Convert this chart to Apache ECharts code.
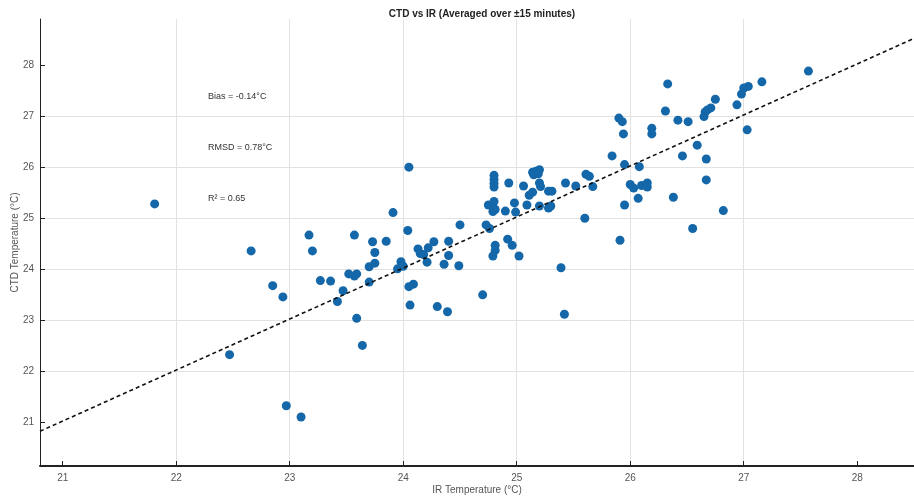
<!DOCTYPE html>
<html>
<head>
<meta charset="utf-8">
<script src="https://cdn.jsdelivr.net/npm/echarts@6/dist/echarts.min.js"></script>
<style>
  html, body { margin: 0; padding: 0; background: #fff; }
  #chart { width: 914px; height: 500px; }
</style>
</head>
<body>
<div id="chart"></div>
<script>
// IR temperature (x) vs CTD temperature (y)
const irTemp = [
  21.81, 22.66, 22.47, 22.97, 23.10, 22.85, 22.94, 23.17, 23.20, 23.27,
  23.36, 23.47, 23.42, 23.52, 23.57, 23.59, 23.57, 23.59, 23.64, 23.70,
  23.75, 23.70, 23.73, 23.75, 23.85, 23.91, 23.98, 23.95, 24.00, 24.04,
  24.05, 24.09, 24.06, 24.13, 24.15, 24.18, 24.21, 24.22, 24.27, 24.40,
  24.40, 24.36, 24.49, 24.30, 24.39, 24.50, 24.70, 24.73, 24.76, 24.05,
  24.80, 24.80, 24.80, 24.80, 24.75, 24.80, 24.79, 24.79, 24.81, 24.81,
  24.81, 24.79, 24.92, 24.96, 25.02, 24.90, 24.99, 24.98, 25.09, 25.20,
  25.28, 25.30, 24.93, 25.06, 25.14, 25.17, 25.20, 25.15, 25.19, 25.14,
  25.11, 25.20, 25.21, 25.28, 25.31, 25.43, 25.52, 25.61, 25.64, 25.67,
  25.60, 25.39, 25.42, 27.57, 27.16, 27.04, 27.00, 26.98, 26.94, 27.03,
  26.33, 26.75, 26.71, 26.68, 26.66, 26.65, 26.31, 26.42, 26.51, 25.90,
  25.93, 25.94, 26.19, 26.19, 25.84, 26.46, 26.59, 26.67, 25.95, 26.08,
  26.00, 26.03, 26.10, 26.15, 26.15, 25.95, 26.07, 26.38, 26.67, 26.82,
  26.55, 25.91
];
const ctdTemp = [
  25.28, 24.36, 22.33, 21.33, 21.11, 23.68, 23.46, 24.67, 24.36, 23.78,
  23.77, 23.58, 23.37, 23.91, 23.87, 23.91, 24.67, 23.04, 22.51, 24.05,
  24.12, 23.75, 24.54, 24.33, 24.55, 25.11, 24.15, 24.01, 24.06, 24.76,
  23.66, 23.71, 23.30, 24.40, 24.31, 24.29, 24.14, 24.42, 24.54, 24.55,
  24.27, 24.10, 24.07, 23.27, 23.17, 24.87, 23.50, 24.87, 24.80, 26.00,
  25.84, 25.76, 25.68, 25.61, 25.26, 25.33, 25.23, 25.13, 25.17, 24.47,
  24.37, 24.26, 24.59, 24.47, 24.26, 25.14, 25.12, 25.30, 25.26, 25.24,
  25.20, 25.24, 25.69, 25.63, 25.90, 25.92, 25.95, 25.85, 25.87, 25.51,
  25.45, 25.69, 25.62, 25.53, 25.53, 25.69, 25.63, 25.86, 25.82, 25.62,
  25.00, 24.03, 23.12, 27.88, 27.67, 27.58, 27.55, 27.43, 27.22, 26.73,
  27.63, 27.33, 27.16, 27.12, 27.08, 26.99, 27.10, 26.92, 26.89, 26.96,
  26.89, 26.65, 26.76, 26.65, 26.22, 26.22, 26.43, 26.16, 26.05, 26.01,
  25.66, 25.59, 25.64, 25.69, 25.61, 25.26, 25.39, 25.41, 25.75, 25.15,
  24.80, 24.57
];

// dashed fit line end points
const fitX = [20.8, 28.5];
const fitY = [20.83, 28.52];

const xTicks = [21, 22, 23, 24, 25, 26, 27, 28];
const yTicks = [21, 22, 23, 24, 25, 26, 27, 28];

const statsText = ['Bias = -0.14°C', 'RMSD = 0.78°C', 'R\u00B2 = 0.65'];

const font = 'Liberation Sans, Arial, sans-serif';

const chart = echarts.init(document.getElementById('chart'));

chart.setOption({
  animation: false,
  title: {
    text: 'CTD vs IR (Averaged over ±15 minutes)',
    left: 477,
    textAlign: 'center',
    top: 4,
    textStyle: { fontFamily: font, fontSize: 10, fontWeight: 'bold', color: '#222' }
  },
  grid: { left: 40, right: 0, top: 19, bottom: 34, containLabel: false, outerBoundsMode: 'none' },
  xAxis: {
    type: 'value',
    min: 20.8,
    max: 28.5,
    splitNumber: 8,
    name: 'IR Temperature (°C)',
    nameLocation: 'middle',
    nameGap: 19,
    nameMoveOverlap: false,
    nameTextStyle: { fontFamily: font, fontSize: 10, color: '#555' },
    axisLine: { onZero: false, lineStyle: { color: '#222', width: 2 } },
    axisTick: { inside: true, length: 5, lineStyle: { color: '#222' }, customValues: xTicks },
    axisLabel: { customValues: xTicks, fontFamily: font, fontSize: 10, color: '#555', margin: 7 },
    splitLine: { show: true, showMinLine: false, showMaxLine: false, lineStyle: { color: '#e2e2e2', width: 1 } }
  },
  yAxis: {
    type: 'value',
    min: 20.15,
    max: 28.9,
    splitNumber: 8,
    name: 'CTD Temperature (°C)',
    nameLocation: 'middle',
    nameGap: 20,
    nameMoveOverlap: false,
    nameTextStyle: { fontFamily: font, fontSize: 10, color: '#555' },
    axisLine: { show: true, onZero: false, lineStyle: { color: '#222', width: 1 } },
    axisTick: { show: true, inside: true, length: 5, lineStyle: { color: '#222' }, customValues: yTicks },
    axisLabel: { customValues: yTicks, fontFamily: font, fontSize: 10, color: '#555', margin: 6 },
    splitLine: { show: true, showMinLine: false, showMaxLine: false, lineStyle: { color: '#e2e2e2', width: 1 } }
  },
  graphic: statsText.map((t, i) => ({
    type: 'text',
    left: 208,
    top: 92 + i * 51,
    style: { text: t, fontFamily: font, fontSize: 9, fill: '#333' }
  })),
  series: [
    {
      type: 'scatter',
      data: irTemp.map((x, i) => [x, ctdTemp[i]]),
      symbolSize: 9,
      itemStyle: { color: '#1467a8', opacity: 1 },
      z: 2
    },
    {
      type: 'line',
      data: fitX.map((x, i) => [x, fitY[i]]),
      showSymbol: false,
      lineStyle: { color: '#111', width: 1.6, type: [4, 3] },
      z: 3
    }
  ]
});
</script>
</body>
</html>
